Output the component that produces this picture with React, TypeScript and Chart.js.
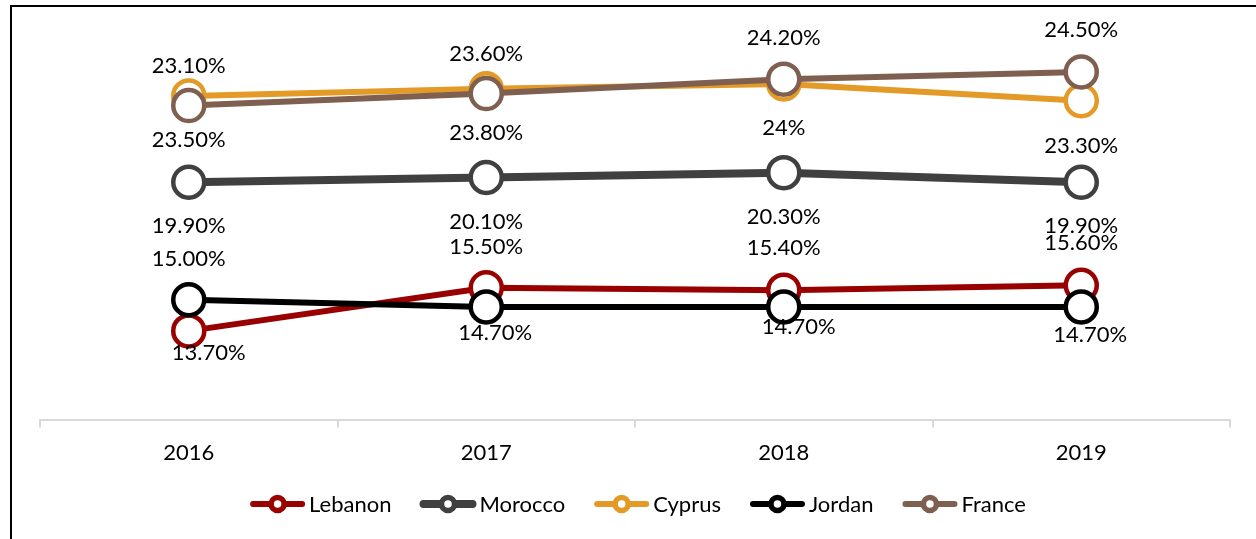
import React, { useEffect, useRef } from 'react';
import { Chart, registerables } from 'chart.js';

Chart.register(...registerables);

const years = ['2016', '2017', '2018', '2019'];
const seriesNames = ['Lebanon', 'Morocco', 'Cyprus', 'Jordan', 'France'];
const lebanon = [13.7, 15.5, 15.4, 15.6];
const morocco = [19.9, 20.1, 20.3, 19.9];
const cyprus = [23.5, 23.8, 24.0, 23.3];
const jordan = [15.0, 14.7, 14.7, 14.7];
const france = [23.1, 23.6, 24.2, 24.5];
const labelOverrides: Record<string, string> = { 'Cyprus|2018': '24%' };

const seriesValues = [lebanon, morocco, cyprus, jordan, france];
const colors = ['#990000', '#404040', '#E39A27', '#000000', '#7E5F50'];
const lineWidths = [6, 8, 6, 6, 6];

// label placement (dx, dy from marker centre), layout only
const labelOffsets: number[][][] = [
  [[20, 22], [0, -41], [0, -42], [0, -42]],
  [[0, 44], [0, 44], [0, 44], [0, 44]],
  [[0, 44], [0, 44], [0, 44], [0, 45]],
  [[0, -41], [9, 26], [15, 20], [9, 28]],
  [[0, -40], [0, -40], [0, -41], [0, -42]],
];

const FONT = 'Lato, "Noto Sans", sans-serif';
const FS = 22;

const fmt = (name: string, year: string, v: number) =>
  labelOverrides[`${name}|${year}`] ?? `${v.toFixed(2)}%`;

const decorPlugin = {
  id: 'decor',
  beforeDraw(chart: any) {
    const ctx = chart.ctx;
    ctx.save();
    ctx.fillStyle = '#000';
    ctx.fillRect(10, 5, chart.width - 10, 2);
    ctx.fillRect(10, 5, 2, chart.height - 5);
    ctx.restore();
  },
  afterDatasetsDraw(chart: any) {
    const ctx = chart.ctx;
    ctx.save();
    ctx.font = `${FS}px ${FONT}`;
    ctx.fillStyle = '#000';
    ctx.textAlign = 'center';
    ctx.textBaseline = 'middle';
    chart.data.datasets.forEach((ds: any, di: number) => {
      const meta = chart.getDatasetMeta(di);
      meta.data.forEach((pt: any, i: number) => {
        const [dx, dy] = labelOffsets[di][i];
        ctx.fillText(fmt(ds.label, years[i], ds.data[i]), pt.x + dx, pt.y + dy);
      });
    });
    ctx.restore();

    // legend
    ctx.save();
    ctx.font = `${FS}px ${FONT}`;
    const lineLen = 55;
    const gapText = 4;
    const gapItem = 29;
    const widths = seriesNames.map((n) => lineLen + gapText + ctx.measureText(n).width);
    const total = widths.reduce((a, b) => a + b, 0) + gapItem * (widths.length - 1);
    let x = 638 - total / 2;
    const y = 504;
    seriesNames.forEach((n, i) => {
      ctx.strokeStyle = colors[i];
      ctx.lineCap = 'round';
      ctx.lineWidth = i === 1 ? 8 : 6;
      ctx.beginPath();
      ctx.moveTo(x + 3, y);
      ctx.lineTo(x + lineLen - 3, y);
      ctx.stroke();
      ctx.beginPath();
      ctx.arc(x + lineLen / 2, y, 6.5, 0, Math.PI * 2);
      ctx.fillStyle = '#fff';
      ctx.fill();
      ctx.lineWidth = 5.5;
      ctx.stroke();
      ctx.fillStyle = '#000';
      ctx.textAlign = 'left';
      ctx.textBaseline = 'middle';
      ctx.fillText(n, x + lineLen + gapText, y + 1);
      x += widths[i] + gapItem;
    });
    ctx.restore();
  },
};

export default function App() {
  const ref = useRef<HTMLCanvasElement>(null);
  useEffect(() => {
    document.body.style.margin = '0';
    const chart = new Chart(ref.current!, {
      type: 'line',
      data: {
        labels: years,
        datasets: seriesNames.map((name, i) => ({
          label: name,
          data: seriesValues[i],
          borderColor: colors[i],
          borderWidth: lineWidths[i],
          pointRadius: 15.5,
          pointHoverRadius: 15.5,
          pointBorderWidth: 4.5,
          pointBackgroundColor: '#fff',
          pointBorderColor: colors[i],
          tension: 0,
          fill: false,
          order: seriesNames.length - i,
          clip: false as any,
        })),
      },
      options: {
        animation: false,
        responsive: false,
        maintainAspectRatio: false,
        events: [],
        layout: { autoPadding: false, padding: { top: 12, left: 40, right: 26, bottom: 61 } },
        plugins: { legend: { display: false }, tooltip: { enabled: false } },
        scales: {
          y: { display: false, min: 10, max: 27 },
          x: {
            offset: true,
            grid: {
              display: true,
              offset: true,
              drawOnChartArea: false,
              drawTicks: true,
              tickLength: 8,
              color: '#d9d9d9',
              lineWidth: 2,
            },
            border: { display: true, color: '#d9d9d9', width: 2 },
            ticks: { color: '#000', font: { family: FONT, size: FS }, padding: 12 },
          },
        },
      },
      plugins: [decorPlugin],
    });
    return () => chart.destroy();
  }, []);
  return (
    <div style={{ position: 'absolute', left: 0, top: 0, width: 1256, height: 539, background: '#fff' }}>
      <canvas ref={ref} width={1256} height={539} style={{ width: 1256, height: 539, display: 'block' }} />
    </div>
  );
}
